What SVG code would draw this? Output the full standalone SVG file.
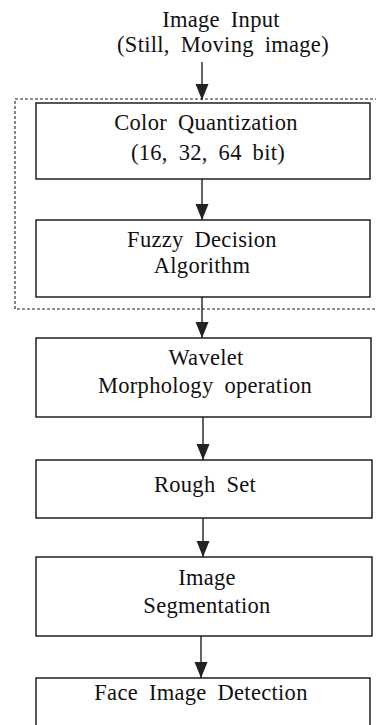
<svg xmlns="http://www.w3.org/2000/svg" width="376" height="725" viewBox="0 0 376 725">
  <defs>
    <!-- filled triangular head, drawn along +x so orient="auto" points it down the line -->
    <marker id="arrowhead" markerUnits="userSpaceOnUse" markerWidth="17" markerHeight="14" refX="16" refY="7" orient="auto" viewBox="0 0 17 14">
      <path d="M0,0.5 L16,7 L0,13.5 Z" fill="#222"/>
    </marker>
  </defs>
  <style>
    .box { fill: #fff; stroke: #111; stroke-width: 1.4; }
    .group { fill: none; stroke: #222; stroke-width: 1.1; stroke-dasharray: 3 2; }
    .label { font-family: "Liberation Serif", "Times New Roman", serif; font-size: 22.5px; fill: #111; text-anchor: middle; letter-spacing: 0.3px; word-spacing: 5px; }
    .conn { stroke: #111; stroke-width: 1.3; fill: none; marker-end: url(#arrowhead); }
  </style>

  <rect width="376" height="725" fill="#fff"/>

  <!-- grouping frame around quantization and fuzzy decision stages -->
  <rect id="frame" class="group" x="15" y="99" width="370" height="210"/>

  <g id="input">
    <text class="label" x="221" y="27">Image Input</text>
    <text class="label" x="223" y="52">(Still, Moving image)</text>
  </g>

  <g id="quantization">
    <rect class="box" x="36" y="103" width="334" height="76"/>
    <text class="label" x="206" y="130">Color Quantization</text>
    <text class="label" x="208" y="160">(16, 32, 64 bit)</text>
  </g>

  <g id="fuzzy">
    <rect class="box" x="36" y="220" width="334" height="77"/>
    <text class="label" x="202" y="247">Fuzzy Decision</text>
    <text class="label" x="202" y="273">Algorithm</text>
  </g>

  <g id="wavelet">
    <rect class="box" x="36" y="338" width="335" height="79"/>
    <text class="label" x="206" y="365">Wavelet</text>
    <text class="label" x="205" y="393">Morphology operation</text>
  </g>

  <g id="roughset">
    <rect class="box" x="36" y="460" width="336" height="58"/>
    <text class="label" x="205" y="492">Rough Set</text>
  </g>

  <g id="segmentation">
    <rect class="box" x="36" y="557" width="336" height="79"/>
    <text class="label" x="207" y="585">Image</text>
    <text class="label" x="207" y="613">Segmentation</text>
  </g>

  <g id="detection">
    <rect class="box" x="36" y="678" width="334" height="60"/>
    <text class="label" x="201" y="700">Face Image Detection</text>
  </g>

  <g id="connectors">
    <line class="conn" x1="202" y1="62" x2="202" y2="100"/>
    <line class="conn" x1="202" y1="179" x2="202" y2="220"/>
    <line class="conn" x1="202" y1="297" x2="202" y2="338"/>
    <line class="conn" x1="203" y1="417" x2="203" y2="460"/>
    <line class="conn" x1="203" y1="518" x2="203" y2="557"/>
    <line class="conn" x1="201" y1="636" x2="201" y2="678"/>
  </g>
</svg>
